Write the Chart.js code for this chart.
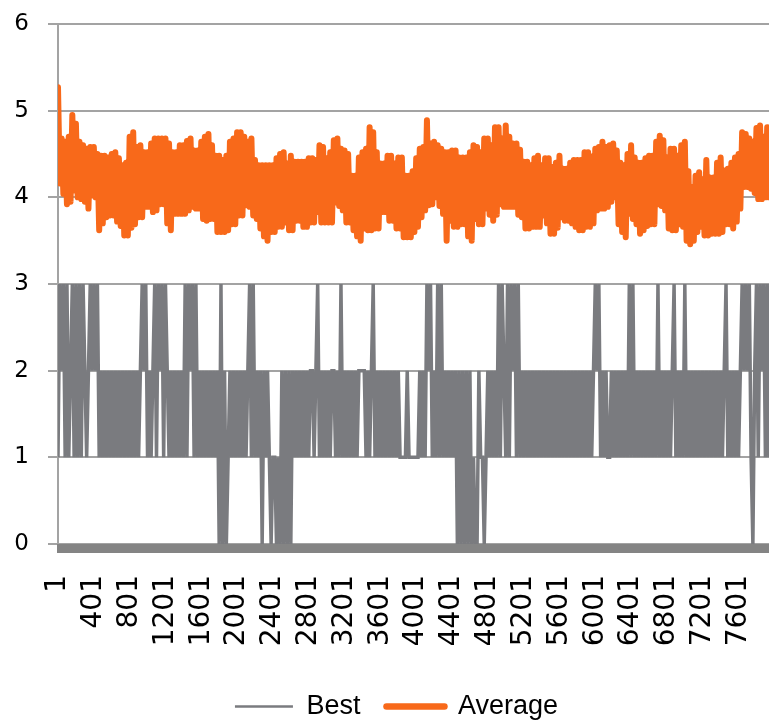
<!DOCTYPE html>
<html>
<head>
<meta charset="utf-8">
<script src="https://cdn.jsdelivr.net/npm/chart.js@4/dist/chart.umd.min.js"></script>
<style>
  html, body { margin: 0; padding: 0; background: #ffffff; }
  #wrap { width: 770px; height: 725px; }
</style>
</head>
<body>
<div id="wrap"><canvas id="c" width="770" height="725"></canvas></div>
<script>
// Series names shown in the legend
const SERIES_NAMES = ['Best', 'Average'];

// Generations between two plotted samples (sample i is generation 1 + GEN_STEP * i)
const GEN_STEP = 20;

// Tick labels
const X_TICKS = [1, 401, 801, 1201, 1601, 2001, 2401, 2801, 3201, 3601, 4001,
                 4401, 4801, 5201, 5601, 6001, 6401, 6801, 7201, 7601];
const Y_TICKS = [0, 1, 2, 3, 4, 5, 6];

// Best fitness per sample (one digit per sample)
const BEST =
  '1323131231' + '3131321232' + '3231212121' + '2121212121' + '2121212323' +
  '1212313231' + '3212121212' + '1313231312' + '1212121212' + '0302012121' +
  '2121212313' + '1212021210' + '1101020202' + '0212121212' + '1221231212' +
  '1212212131' + '2121212122' + '2212123121' + '2121212121' + '2111121111' +
  '1121213231' + '2131312121' + '2120202020' + '2010021101' + '2121213132' +
  '1313231312' + '1212121212' + '1212121212' + '1212121212' + '1212121212' +
  '3231212112' + '1212121213' + '1312121212' + '1212131212' + '1212312121' +
  '3121212121' + '2121212121' + '2123121212' + '1232323102' + '31323131';

// Average fitness: successive local highs and lows of the population average
const AVG_HIGH = [
  5.27,4.68,4.64,4.70,4.95,4.85,4.64,4.60,4.56,4.58,4.58,4.50,4.48,4.48,4.46,4.50,4.52,4.45,4.37,4.40,
  4.70,4.75,4.58,4.60,4.52,4.52,4.62,4.68,4.68,4.68,4.68,4.62,4.52,4.52,4.60,4.60,4.65,4.68,4.54,4.54,
  4.64,4.70,4.73,4.60,4.48,4.48,4.43,4.48,4.64,4.68,
  4.75,4.75,4.70,4.64,4.68,4.43,4.37,4.37,4.37,4.37,4.37,4.45,4.50,4.52,4.39,4.48,4.41,4.41,4.41,4.41,
  4.45,4.45,4.43,4.60,4.58,4.45,4.52,4.66,4.68,4.56,4.54,4.50,4.25,4.25,4.46,4.52,4.56,4.81,4.75,4.52,
  4.39,4.39,4.48,4.48,4.39,4.46,4.46,4.25,4.25,4.30,
  4.45,4.56,4.58,4.89,4.62,4.64,4.60,4.56,4.52,4.52,4.54,4.54,4.46,4.46,4.46,4.52,4.60,4.58,4.52,4.68,
  4.68,4.60,4.81,4.81,4.68,4.83,4.70,4.62,4.62,4.55,4.41,4.41,4.37,4.45,4.48,4.37,4.45,4.45,4.35,4.40,
  4.48,4.33,4.33,4.40,4.43,4.43,4.43,4.52,4.52,
  4.47,4.56,4.58,4.64,4.58,4.60,4.62,4.54,4.40,4.37,4.50,4.60,4.46,4.40,4.40,4.45,4.48,4.48,4.64,4.71,
  4.66,4.46,4.56,4.56,4.48,4.60,4.64,4.30,4.12,4.25,4.29,4.21,4.43,4.23,4.23,4.40,4.46,4.31,4.33,4.40,
  4.46,4.50,4.75,4.73,4.68,4.64,4.80,4.83,4.70,4.81
];
const AVG_LOW = [
  4.16,4.04,3.92,3.95,4.08,4.00,3.98,3.95,3.87,4.02,4.00,3.62,3.70,3.77,3.79,3.79,3.72,3.67,3.56,3.56,
  3.65,3.69,3.77,3.77,3.89,3.89,3.83,3.85,3.92,3.92,3.70,3.62,3.81,3.81,3.81,3.81,3.85,3.89,3.87,3.87,
  3.75,3.73,3.75,3.75,3.60,3.60,3.60,3.62,3.69,3.69,
  3.79,3.79,3.91,3.89,3.79,3.75,3.64,3.55,3.50,3.60,3.60,3.66,3.66,3.71,3.62,3.62,3.73,3.73,3.66,3.66,
  3.71,3.71,3.83,3.71,3.71,3.71,3.71,3.94,3.90,3.85,3.71,3.71,3.62,3.55,3.50,3.64,3.62,3.62,3.64,3.64,
  3.83,3.83,3.73,3.73,3.64,3.64,3.54,3.54,3.54,3.60,
  3.66,3.77,3.85,3.91,3.92,4.00,3.90,3.81,3.50,3.73,3.66,3.66,3.69,3.69,3.55,3.50,3.75,3.69,3.69,3.87,
  3.80,3.73,3.80,3.92,3.89,3.89,3.89,3.89,3.80,3.77,3.64,3.64,3.66,3.66,3.66,3.79,3.70,3.58,3.58,3.65,
  3.77,3.73,3.73,3.70,3.66,3.62,3.62,3.66,3.66,
  3.70,3.85,3.87,3.87,3.89,3.95,4.00,3.69,3.60,3.54,3.81,3.75,3.69,3.58,3.62,3.67,3.69,3.69,3.92,3.90,
  3.85,3.64,3.62,3.62,3.69,3.66,3.50,3.46,3.50,3.60,3.66,3.56,3.56,3.58,3.58,3.58,3.60,3.69,3.69,3.64,
  3.72,3.87,4.12,4.12,4.10,4.05,3.98,3.98,4.00,4.00
];

// Build plotted points
const bestValues = BEST.split('').map(Number);
const avgValues = [];
for (let k = 0; k < Math.min(AVG_HIGH.length, AVG_LOW.length); k++) {
  avgValues.push(AVG_HIGH[k], AVG_LOW[k]);
}
const toPoints = vals => vals.map((v, i) => ({ x: 1 + GEN_STEP * i, y: v }));
const bestPoints = toPoints(bestValues);
const avgPoints = toPoints(avgValues);
const lastGen = 1 + GEN_STEP * (Math.max(bestValues.length, avgValues.length) - 1);

const GRID = '#a3a3a3';
const BEST_COLOR = '#7a7b7f';
const AVG_COLOR = '#f8691a';

// Heavy horizontal axis line drawn just under the zero line
const axisBand = {
  id: 'axisBand',
  beforeDatasetsDraw(chart) {
    const { ctx, chartArea, scales } = chart;
    const y0 = scales.y.getPixelForValue(0);
    ctx.save();
    ctx.fillStyle = '#848484';
    ctx.fillRect(chartArea.left - 1, y0, chartArea.right - chartArea.left + 1, 9);
    ctx.restore();
  }
};

// Centre the legend under the plot area rather than the whole canvas
const legendShift = {
  id: 'legendShift',
  afterLayout(chart) {
    const lg = chart.legend;
    if (lg) { lg.left += 12; lg.right += 12; }
  }
};

new Chart(document.getElementById('c'), {
  type: 'line',
  data: {
    datasets: [
      {
        label: SERIES_NAMES[0],
        data: bestPoints,
        borderColor: BEST_COLOR,
        backgroundColor: BEST_COLOR,
        borderWidth: 3.5,
        pointRadius: 0,
        tension: 0,
        borderJoinStyle: 'miter'
      },
      {
        label: SERIES_NAMES[1],
        data: avgPoints,
        borderColor: AVG_COLOR,
        backgroundColor: AVG_COLOR,
        borderWidth: 6,
        pointRadius: 0,
        tension: 0,
        borderCapStyle: 'round',
        borderJoinStyle: 'round'
      }
    ]
  },
  options: {
    responsive: false,
    animation: false,
    events: [],
    layout: { padding: { left: 0, top: 24, right: 1, bottom: -5 } },
    plugins: {
      tooltip: { enabled: false },
      legend: {
        position: 'bottom',
        labels: {
          usePointStyle: true,
          pointStyle: 'line',
          pointStyleWidth: 58,
          padding: 26,
          color: '#000000',
          font: { family: '"Liberation Sans", Arial, sans-serif', size: 27 },
          generateLabels(chart) {
            const items = Chart.defaults.plugins.legend.labels.generateLabels(chart);
            items.forEach(it => {
              it.lineWidth = it.datasetIndex === 1 ? 6.5 : 2.5;
              it.lineCap = it.datasetIndex === 1 ? 'round' : 'butt';
            });
            return items;
          }
        }
      }
    },
    scales: {
      x: {
        type: 'linear',
        min: 1,
        max: lastGen,
        afterBuildTicks(scale) {
          scale.ticks = X_TICKS.map(v => ({ value: v }));
        },
        afterFit(scale) {
          scale.height = 123;
          scale.paddingLeft = 0;
          scale.paddingRight = 0;
        },
        ticks: {
          autoSkip: false,
          minRotation: 90,
          maxRotation: 90,
          padding: 31,
          color: '#000000',
          font: { family: '"DejaVu Sans", Verdana, sans-serif', size: 28 },
          callback: v => String(v)
        },
        grid: { display: false, drawTicks: false },
        border: { display: false }
      },
      y: {
        min: 0,
        max: 6,
        afterBuildTicks(scale) {
          scale.ticks = Y_TICKS.map(v => ({ value: v }));
        },
        afterFit(scale) {
          scale.width = 58;
          scale.paddingTop = 0;
          scale.paddingBottom = 0;
        },
        ticks: {
          padding: 19,
          color: '#000000',
          font: { family: '"DejaVu Sans", Verdana, sans-serif', size: 23 },
          callback: v => String(v)
        },
        grid: { color: GRID, lineWidth: 2, tickLength: 10, drawTicks: true },
        border: { color: GRID, width: 2 }
      }
    }
  },
  plugins: [axisBand, legendShift]
});
</script>
</body>
</html>
